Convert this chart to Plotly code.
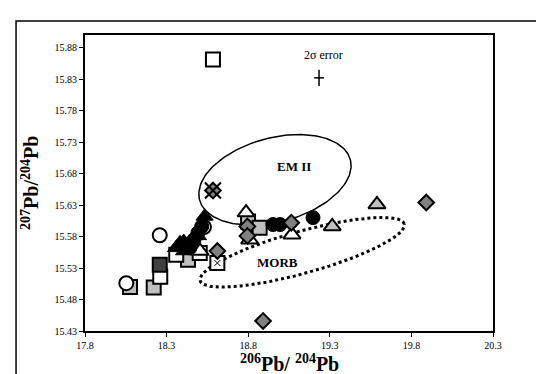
import numpy as np
import plotly.graph_objects as go

# ---------------- data (206Pb/204Pb , 207Pb/204Pb) ----------------
open_sq_x = [18.584, 18.261, 18.359, 18.503]
open_sq_y = [15.861, 15.516, 15.551, 15.554]

gray_sq_x = [18.076, 18.221, 18.431, 18.799, 18.870]
gray_sq_y = [15.500, 15.499, 15.543, 15.604, 15.594]

dark_sq_x = [18.258]
dark_sq_y = [15.535]

xsq_x = [18.611]
xsq_y = [15.538]

open_ci_x = [18.258, 18.053, 18.529]
open_ci_y = [15.582, 15.506, 15.595]

black_ci_x = [18.952, 18.995, 19.197, 18.492, 18.468, 18.443, 18.515]
black_ci_y = [15.599, 15.599, 15.610, 15.586, 15.575, 15.562, 15.596]

black_tri_x = [18.533, 18.405, 18.358, 18.431, 18.492, 18.407, 18.382]
black_tri_y = [15.612, 15.572, 15.562, 15.565, 15.581, 15.557, 15.570]

open_tri_x = [18.787, 18.809, 19.068, 18.505]
open_tri_y = [15.618, 15.575, 15.583, 15.557]

gray_tri_x = [19.315, 19.589]
gray_tri_y = [15.596, 15.631]

gray_dia_x = [19.891, 18.891, 18.611, 18.795, 18.795, 19.064]
gray_dia_y = [15.634, 15.446, 15.557, 15.596, 15.581, 15.602]

xdia_x = [18.584]
xdia_y = [15.653]

err_x = [19.234]
err_y = [15.832]
err_dx = [0.03]
err_dy = [0.013]

x_ticks = [17.8, 18.3, 18.8, 19.3, 19.8, 20.3]
y_ticks = [15.43, 15.48, 15.53, 15.58, 15.63, 15.68, 15.73, 15.78, 15.83, 15.88]

# ellipse fields: centre (data), semi-axes (pixels), tilt (deg)
em2_center = (18.964, 15.670)
morb_center = (19.131, 15.555)

XR = [17.8, 20.3]
YR = [15.43, 15.90]
PW, PH = 408, 296
sx = PW / (XR[1] - XR[0])
sy = PH / (YR[1] - YR[0])


def ellipse_path(center, a, b, ang):
    t = np.linspace(0, 2 * np.pi, 200)
    th = np.radians(ang)
    dx = a * np.cos(t) * np.cos(th) - b * np.sin(t) * np.sin(th)
    dy = a * np.cos(t) * np.sin(th) + b * np.sin(t) * np.cos(th)
    xs = center[0] + dx / sx
    ys = center[1] + dy / sy
    return xs, ys


fig = go.Figure()

ex, ey = ellipse_path(em2_center, 78, 42, 15)
fig.add_trace(go.Scatter(x=ex, y=ey, mode="lines", line=dict(color="black", width=1.5),
                         hoverinfo="skip", showlegend=False))
mx, my = ellipse_path(morb_center, 106, 21, 15.5)
fig.add_trace(go.Scatter(x=mx, y=my, mode="lines", line=dict(color="black", width=3, dash="dot"),
                         hoverinfo="skip", showlegend=False))


def add(x, y, symbol, fill, size, lw=2, lc="black"):
    fig.add_trace(go.Scatter(x=x, y=y, mode="markers", showlegend=False,
                             marker=dict(symbol=symbol, color=fill, size=size,
                                         line=dict(color=lc, width=lw))))


add(gray_sq_x, gray_sq_y, "square", "#c0c0c0", 14)
add(open_sq_x, open_sq_y, "square", "white", 14)
add(dark_sq_x, dark_sq_y, "square", "#404040", 14)
add(xsq_x, xsq_y, "square", "white", 14)
add(xsq_x, xsq_y, "x-thin-open", "black", 6, lw=1)
add(open_ci_x, open_ci_y, "circle", "white", 14)
add(open_tri_x, open_tri_y, "triangle-up", "white", 15)
add(gray_tri_x, gray_tri_y, "triangle-up", "#c0c0c0", 15)
add(black_ci_x, black_ci_y, "circle", "black", 14, lw=1, lc="black")
add(black_tri_x, black_tri_y, "triangle-up", "black", 15, lw=1)
add(gray_dia_x, gray_dia_y, "diamond", "#808080", 12)
add(xdia_x, xdia_y, "diamond", "#808080", 12)
add(xdia_x, xdia_y, "x-thin-open", "black", 16, lw=2)

fig.add_trace(go.Scatter(x=err_x, y=err_y, mode="markers", showlegend=False,
                         marker=dict(size=1, color="black", opacity=0),
                         error_x=dict(type="data", array=err_dx, width=0, thickness=1.5, color="black"),
                         error_y=dict(type="data", array=err_dy, width=0, thickness=1.5, color="black")))

serif = "Liberation Serif, Times New Roman, serif"

fig.update_layout(
    width=544, height=374,
    margin=dict(l=77, r=59, t=27, b=51),
    paper_bgcolor="white", plot_bgcolor="white",
    font=dict(family=serif, color="black", size=10),
    showlegend=False,
    xaxis=dict(range=XR, tickvals=x_ticks, ticktext=[f"{v:.1f}" for v in x_ticks],
               showgrid=False, zeroline=False, showline=True, mirror=True,
               linecolor="black", linewidth=2, ticks="outside", ticklen=4,
               tickwidth=1, tickcolor="black", tickfont=dict(size=10, family=serif)),
    yaxis=dict(range=YR, tickvals=y_ticks, ticktext=[f"{v:.2f}" for v in y_ticks],
               showgrid=False, zeroline=False, showline=True, mirror=True,
               linecolor="black", linewidth=2, ticks="outside", ticklen=4,
               tickwidth=1, tickcolor="black", tickfont=dict(size=10, family=serif)),
    shapes=[dict(type="rect", xref="paper", yref="paper", x0=-0.169, x1=1.2,
                 y0=-0.25, y1=1.047, line=dict(color="black", width=1.5),
                 fillcolor="rgba(0,0,0,0)", layer="above")],
    annotations=[
        dict(x=0.5, y=-0.108, xref="paper", yref="paper", showarrow=False,
             text="<b><sup>206</sup>Pb/ <sup>204</sup>Pb</b>", font=dict(size=20, family=serif),
             xanchor="center", yanchor="middle"),
        dict(x=-0.135, y=0.5, xref="paper", yref="paper", showarrow=False, textangle=-90,
             text="<b><sup>207</sup>Pb/<sup>204</sup>Pb</b>", font=dict(size=20, family=serif),
             xanchor="center", yanchor="middle"),
        dict(x=19.26, y=15.869, showarrow=False, text="2σ error",
             font=dict(size=12, family=serif)),
        dict(x=19.08, y=15.692, showarrow=False, text="<b>EM II</b>",
             font=dict(size=13, family=serif)),
        dict(x=18.98, y=15.538, showarrow=False, text="<b>MORB</b>",
             font=dict(size=13, family=serif)),
    ],
)

fig.write_html("out.html")
